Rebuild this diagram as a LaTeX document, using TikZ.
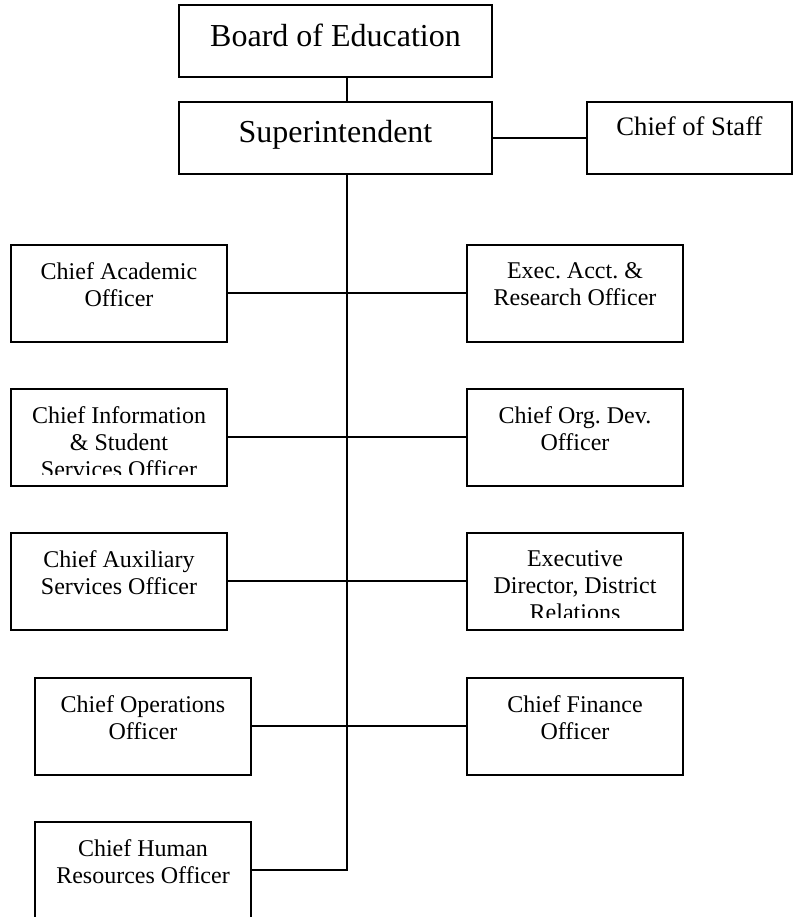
\documentclass[tikz,border=0pt]{standalone}
\usepackage{fontspec}
\setmainfont{Liberation Serif}
\usetikzlibrary{positioning}
\frenchspacing

\begin{document}
\begin{tikzpicture}[x=0.75pt,y=-0.75pt,
		box/.style={draw,line width=1.5pt,inner sep=0pt,outer sep=0pt},
		headbox/.style={box,minimum width=234.75pt,minimum height=54pt},
		staffbox/.style={box,minimum width=153.75pt,minimum height=54pt},
		officer/.style={box,minimum width=162pt,minimum height=72.75pt},
		boxtext/.style={inner sep=0pt,outer sep=0pt,align=center,font=\fontsize{18pt}{20.25pt}\selectfont},
		headtext/.style={boxtext,font=\fontsize{24pt}{27pt}\selectfont},
		link/.style={line width=1.5pt}]
	\useasboundingbox (0,0) rectangle (793,917);
	% board, superintendent, chief of staff
	\node[headbox] (board) at (335.5,41.5) {};
	\node[headbox] (sup) at (335.5,138) {};
	\node[staffbox] (staff) at (689.5,138) {};
	\node[headtext,below=13.5pt of board.north] (board-t) {Board of Education};
	\node[headtext,below=13.5pt of sup.north] (sup-t) {Superintendent};
	\node[boxtext,font=\fontsize{20pt}{22.5pt}\selectfont,below=11.25pt of staff.north] (staff-t) {Chief of Staff};
	\coordinate (spine) at (347,174);
	% officers, left column
	\node[officer] (cao) at (119,293) {};
	\node[officer] (cio) at (119,437) {};
	\node[officer] (caux) at (119,581) {};
	\node[officer] (coo) at (143,726) {};
	\node[officer] (chr) at (143,870) {};
	% officers, right column
	\node[officer] (eao) at (575,293) {};
	\node[officer] (cod) at (575,437) {};
	\node[officer] (edr) at (575,581) {};
	\node[officer] (cfo) at (575,726) {};
	% texts
	\node[boxtext,below=13.5pt of cao.north] (cao-t) {Chief Academic\\Officer};
	\begin{scope}
		\clip (cio.north west) rectangle ([yshift=8pt]cio.south east);
		\node[boxtext,below=13.5pt of cio.north] (cio-t) {Chief Information\\\& Student\\Services Officer};
	\end{scope}
	\node[boxtext,below=13.5pt of caux.north] (caux-t) {Chief Auxiliary\\Services Officer};
	\node[boxtext,below=13.5pt of coo.north] (coo-t) {Chief Operations\\Officer};
	\node[boxtext,below=13.5pt of chr.north] (chr-t) {Chief Human\\Resources Officer};
	\node[boxtext,below=13.5pt of eao.north] (eao-t) {Exec. Acct. \&\\Research Officer};
	\node[boxtext,below=13.5pt of cod.north] (cod-t) {Chief Org. Dev.\\Officer};
	\begin{scope}
		\clip (edr.north west) rectangle ([yshift=9pt]edr.south east);
		\node[boxtext,below=13.5pt of edr.north] (edr-t) {Executive\\Director, District\\Relations};
	\end{scope}
	\node[boxtext,below=13.5pt of cfo.north] (cfo-t) {Chief Finance\\Officer};
	% connectors
	\draw[link] (board.south -| spine) -- (sup.north -| spine);
	\draw[link] (sup.east) -- (staff.west);
	\draw[link] (spine) |- (chr.east);
	\draw[link] (cao.east) -- (eao.west);
	\draw[link] (cio.east) -- (cod.west);
	\draw[link] (caux.east) -- (edr.west);
	\draw[link] (coo.east) -- (cfo.west);
\end{tikzpicture}
\end{document}
